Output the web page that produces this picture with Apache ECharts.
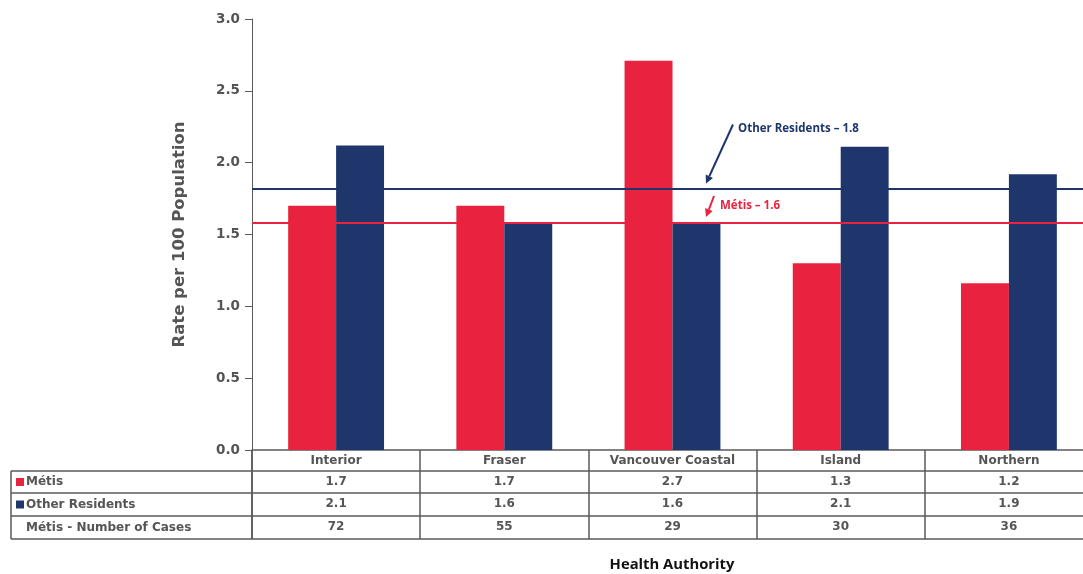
<!DOCTYPE html>
<html>
<head>
<meta charset="utf-8">
<script src="https://cdn.jsdelivr.net/npm/echarts@6/dist/echarts.min.js"></script>
<style>
html,body{margin:0;padding:0;background:#fff;}
#main{width:1083px;height:574px;}
</style>
</head>
<body>
<div id="main"></div>
<script>
// ---- data ----
const categories = ['Interior', 'Fraser', 'Vancouver Coastal', 'Island', 'Northern'];
const metisValues = [1.70, 1.70, 2.71, 1.30, 1.16];
const otherValues = [2.12, 1.58, 1.58, 2.11, 1.92];
const metisLabels = ['1.7', '1.7', '2.7', '1.3', '1.2'];
const otherLabels = ['2.1', '1.6', '1.6', '2.1', '1.9'];
const metisCases = ['72', '55', '29', '30', '36'];
const metisAvg = 1.58;
const otherAvg = 1.82;
const metisAvgLabel = 'Métis – 1.6';
const otherAvgLabel = 'Other Residents – 1.8';
const rowLabels = ['Métis', 'Other Residents', 'Métis - Number of Cases'];

// ---- style ----
const RED = '#E9233F';
const BLUE = '#1F366C';
const GRAY = '#555555';
const LINE = '#5a5a5a';
const FONT = '"DejaVu Sans"';
const tableFont = {fontFamily: 'DejaVu Sans', fontWeight: 'bold', fontSize: 12, color: GRAY};

const chart = echarts.init(document.getElementById('main'));

const G = {left: 252, top: 19, width: 841, bottom: 124, outerBoundsMode: 'none', containLabel: false};
const rowOffsets = [21, 43, 66];

function valueAxis(offset, labels) {
  return {
    type: 'category', data: categories, gridIndex: 0, position: 'bottom', offset: offset,
    axisLine: {show: false}, axisTick: {show: false},
    axisLabel: Object.assign({margin: 5, interval: 0, formatter: (v, i) => labels[i]}, tableFont)
  };
}

const option = {
  animation: false,
  backgroundColor: '#fff',
  grid: G,
  yAxis: {
    type: 'value', min: 0, max: 3, interval: 0.5,
    name: 'Rate per 100 Population', nameLocation: 'middle', nameGap: 64, nameRotate: 90,
    nameTextStyle: {fontFamily: 'DejaVu Sans', fontWeight: 'bold', fontSize: 16.5, color: GRAY},
    axisLine: {show: true, lineStyle: {color: LINE, width: 1}},
    axisTick: {show: true, length: 7, lineStyle: {color: LINE}},
    splitLine: {show: false},
    axisLabel: {margin: 12, fontFamily: 'DejaVu Sans', fontWeight: 'bold', fontSize: 13.5, color: GRAY,
      formatter: v => v.toFixed(1)}
  },
  xAxis: [
    {
      type: 'category', data: categories,
      axisLine: {show: true, lineStyle: {color: LINE, width: 1.5}},
      axisTick: {show: true, length: 89, alignWithLabel: false, lineStyle: {color: LINE, width: 1.5}},
      axisLabel: Object.assign({margin: 5, interval: 0}, tableFont)
    },
    valueAxis(rowOffsets[0], metisLabels),
    valueAxis(rowOffsets[1], otherLabels),
    valueAxis(rowOffsets[2], metisCases)
  ],
  series: [
    {
      name: 'Métis', type: 'bar', data: metisValues, barGap: '0%', barCategoryGap: '43%',
      itemStyle: {color: RED},
      markLine: {silent: true, symbol: 'none', label: {show: false},
        lineStyle: {color: RED, width: 2, type: 'solid'}, data: [{yAxis: metisAvg}]}
    },
    {
      name: 'Other Residents', type: 'bar', data: otherValues,
      itemStyle: {color: BLUE},
      markLine: {silent: true, symbol: 'none', label: {show: false},
        lineStyle: {color: BLUE, width: 2, type: 'solid'}, data: [{yAxis: otherAvg}]}
    }
  ]
};
chart.setOption(option);

// ---- table frame and annotations ----
const W = 1083;
const yZero = chart.convertToPixel({yAxisIndex: 0}, 0);
const rowTop = [yZero + rowOffsets[0], yZero + rowOffsets[1], yZero + rowOffsets[2], yZero + 89];
const leftX = 11;
const g = [];
rowTop.forEach(y => g.push({type: 'line', shape: {x1: leftX, y1: y, x2: W, y2: y},
  style: {stroke: LINE, lineWidth: 1.5}}));
g.push({type: 'line', shape: {x1: leftX, y1: rowTop[0], x2: leftX, y2: rowTop[3]}, style: {stroke: LINE, lineWidth: 1.5}});
g.push({type: 'line', shape: {x1: G.left, y1: yZero, x2: G.left, y2: rowTop[3]}, style: {stroke: LINE, lineWidth: 1.5}});
const colors = [RED, BLUE, null];
rowLabels.forEach((t, i) => {
  const cy = (rowTop[i] + rowTop[i + 1]) / 2;
  if (colors[i]) g.push({type: 'rect', shape: {x: 16, y: cy - 4, width: 8, height: 8}, style: {fill: colors[i]}});
  g.push({type: 'text', x: 26, y: cy, style: {text: t, fill: GRAY, font: 'bold 12px ' + FONT, verticalAlign: 'middle'}});
});
// annotations
const yOther = chart.convertToPixel({yAxisIndex: 0}, otherAvg);
const yMetis = chart.convertToPixel({yAxisIndex: 0}, metisAvg);
function arrow(x1, y1, x2, y2, color) {
  const ang = Math.atan2(y2 - y1, x2 - x1);
  const L = 8, Wd = 4;
  const bx = x2 - L * Math.cos(ang), by = y2 - L * Math.sin(ang);
  g.push({type: 'line', shape: {x1: x1, y1: y1, x2: bx, y2: by}, style: {stroke: color, lineWidth: 2}});
  g.push({type: 'polygon', shape: {points: [[x2, y2],
    [bx + Wd * Math.sin(ang), by - Wd * Math.cos(ang)],
    [bx - Wd * Math.sin(ang), by + Wd * Math.cos(ang)]]}, style: {fill: color}});
}
arrow(733, yOther - 64, 706, yOther - 5, BLUE);
arrow(714, yMetis - 27, 706, yMetis - 6, RED);
g.push({type: 'text', x: 738, y: yOther - 60, style: {text: otherAvgLabel, fill: BLUE, font: 'bold 11.5px "Open Sans"', verticalAlign: 'middle'}});
g.push({type: 'text', x: 720, y: yMetis - 17, style: {text: metisAvgLabel, fill: RED, font: 'bold 11.5px "Open Sans"', verticalAlign: 'middle'}});
g.push({type: 'text', x: 672, y: 565, style: {text: 'Health Authority', fill: '#111', font: 'bold 14.8px "Open Sans"', align: 'center', verticalAlign: 'middle'}});
chart.setOption({graphic: g});
</script>
</body>
</html>
